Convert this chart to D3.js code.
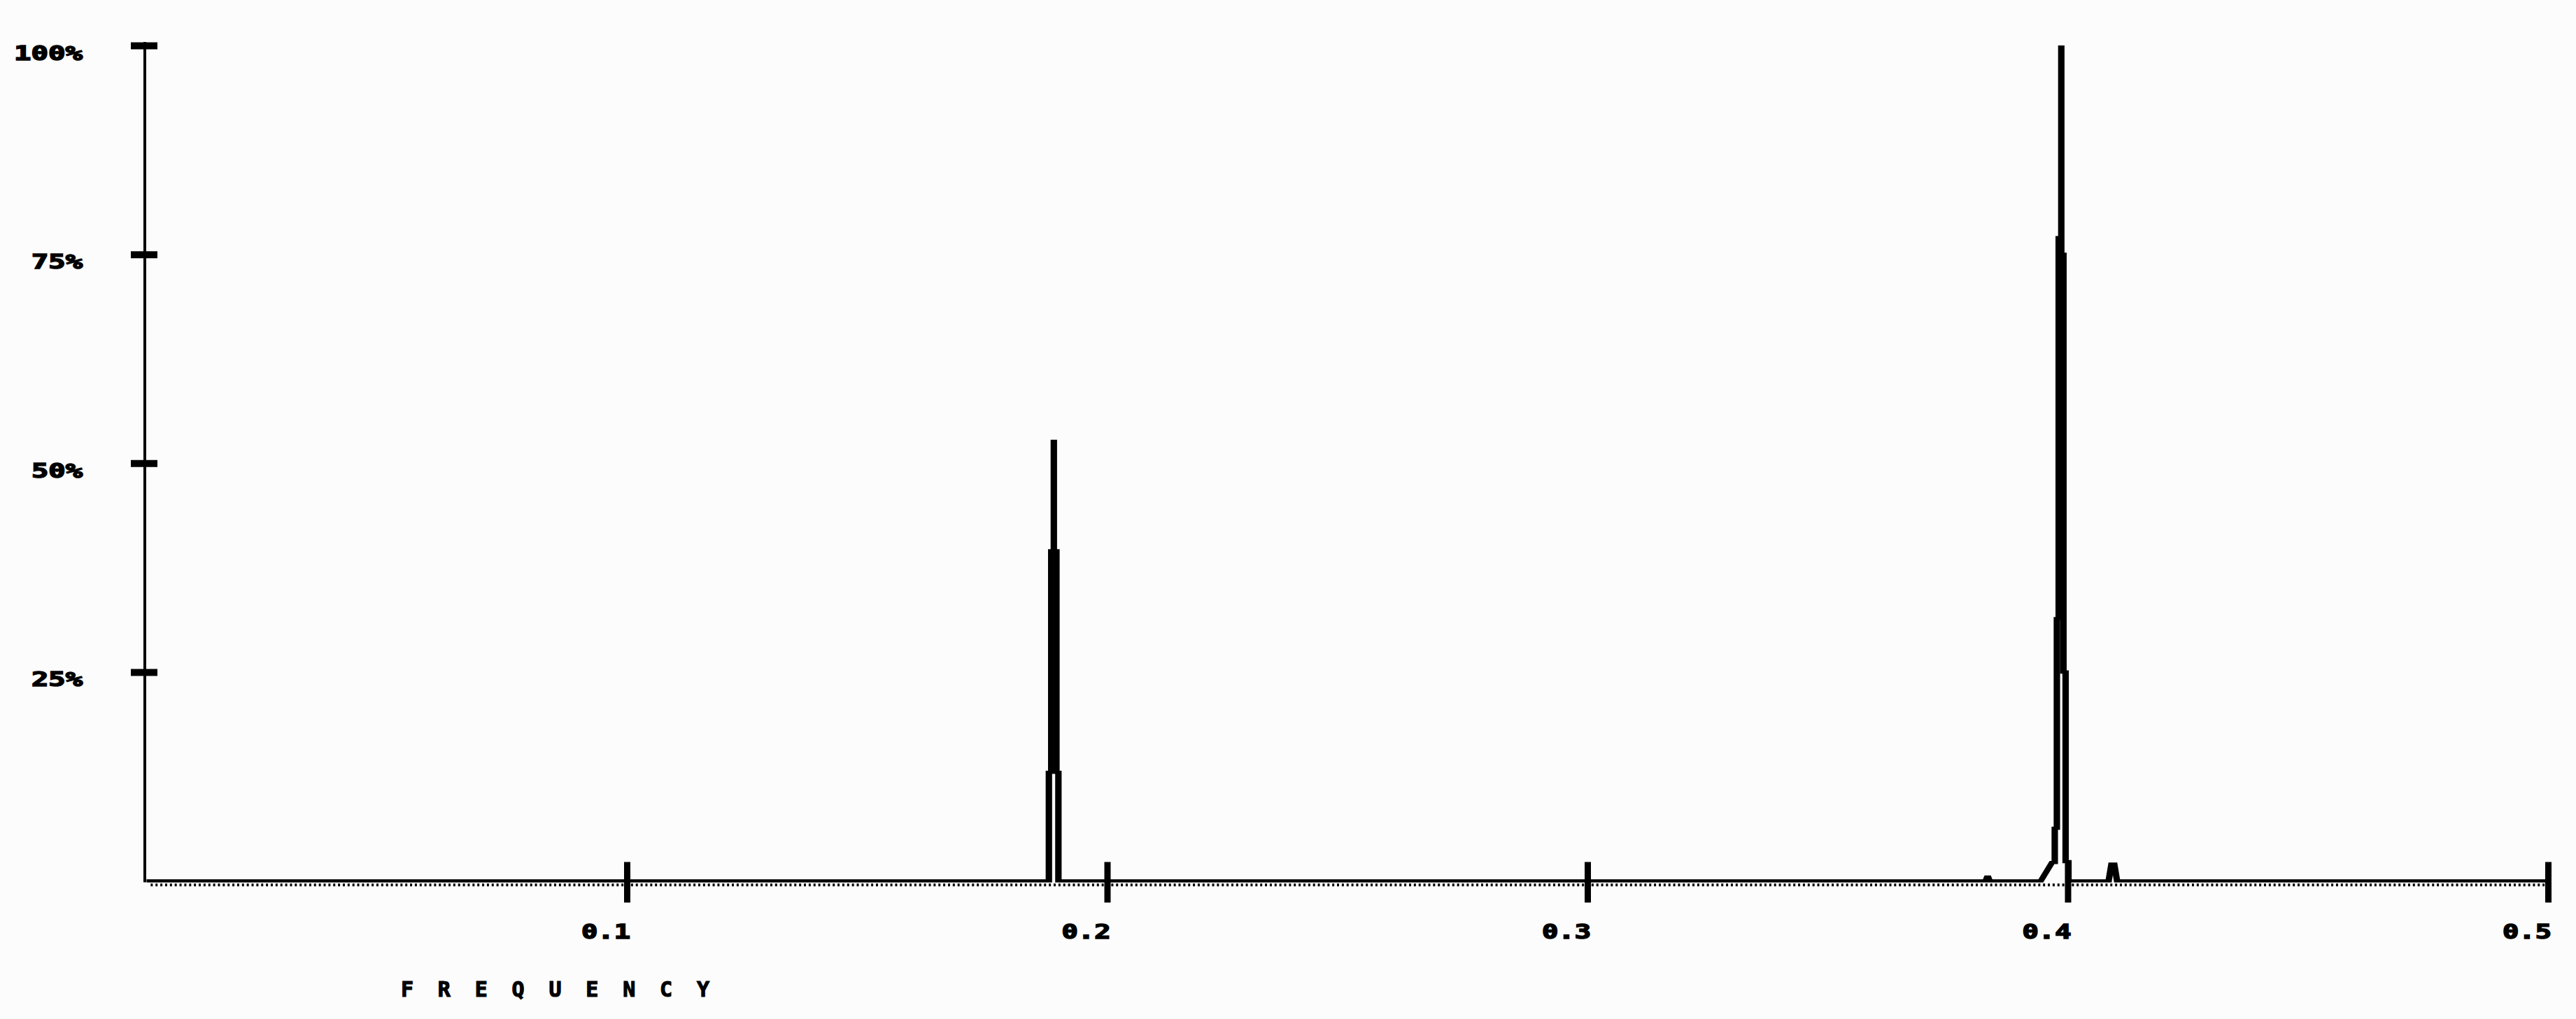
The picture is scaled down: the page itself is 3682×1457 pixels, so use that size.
<!DOCTYPE html>
<html>
<head>
<meta charset="utf-8">
<script src="https://cdn.jsdelivr.net/npm/d3@7"></script>
<style>
  html, body { margin: 0; padding: 0; background: #fcfcfc; }
  svg { display: block; }
</style>
</head>
<body>
<svg id="chart" width="3682" height="1457"></svg>
<script>
// spectrum trace: frequency (cycles/sample) and power (% of peak)
const frequency = [
  0,
  // peak near 0.19
  0.18787, 0.18787, 0.18836, 0.18836, 0.18890, 0.18890, 0.18890, 0.18944, 0.18944, 0.18985, 0.18985,
  // small blip
  0.38289, 0.38333, 0.38376,
  // main peak near 0.4
  0.39440, 0.39672, 0.39730, 0.39730, 0.39774, 0.39774, 0.39812, 0.39812, 0.39866, 0.39866,
  0.39866, 0.39911, 0.39911, 0.39956, 0.39956, 0.40015, 0.40015,
  // side lobe
  0.40852, 0.40910, 0.40969, 0.41027,
  0.5
];
const power = [
  0,
  0, 13, 13, 39.5, 39.5, 52.8, 39.5, 39.5, 13, 13, 0,
  0, 0.6, 0,
  0, 2.2, 2.2, 6.3, 6.3, 31.4, 31.4, 77, 77, 100,
  75, 75, 25, 25, 2.3, 2.3, 0,
  0, 2.0, 2.0, 0,
  0
];
const xTicks = [0.1, 0.2, 0.3, 0.4, 0.5];
const yTicks = [25, 50, 75, 100];
const axisLabel = "FREQUENCY";

const svg = d3.select("#chart");
const x0 = 209.5, x1 = 3642;
const yBase = 1259.5, yTop = 65;
const fontFam = "'DejaVu Sans Mono', 'Liberation Mono', monospace";

const x = d3.scaleLinear().domain([0, 0.5]).range([x0, x1]);
const y = d3.scaleLinear().domain([0, 100]).range([yBase, yTop]);
// the plotter pen is twice as wide as it is tall, so draw the trace in a stretched group
const xHalf = d3.scaleLinear().domain([0, 0.5]).range([0, (x1 - x0) / 2]);

const points = frequency.map((f, i) => ({ f, p: power[i] }));

// minor ticks (dotted strip under baseline)
const minor = svg.append("g")
    .attr("transform", `translate(0,${yBase + 3.8})`)
    .call(d3.axisBottom(x).tickValues(d3.range(1, 500).map(i => i / 1000)).tickSize(4).tickFormat(""));
minor.select(".domain").remove();
minor.selectAll(".tick line").attr("stroke", "#000").attr("stroke-width", 3);

// trace
svg.append("g")
    .attr("transform", `translate(${x0},0) scale(2,1)`)
    .append("path")
    .datum(points)
    .attr("fill", "none")
    .attr("stroke", "#000")
    .attr("stroke-width", 4.6)
    .attr("stroke-linejoin", "miter")
    .attr("d", d3.line().x(d => xHalf(d.f)).y(d => y(d.p)));

// x axis major ticks + labels
const gx = svg.append("g")
    .attr("transform", `translate(0,${yBase})`)
    .call(d3.axisBottom(x).tickValues(xTicks).tickSize(31).tickFormat(d3.format(".1f")));
gx.select(".domain").remove();
gx.selectAll(".tick line")
    .attr("y1", -27)
    .attr("stroke", "#000")
    .attr("stroke-width", 9);
gx.selectAll(".tick text")
    .attr("fill", "#000")
    .attr("stroke", "#000")
    .attr("stroke-width", 1.6)
    .attr("font-family", fontFam)
    .attr("font-weight", "bold")
    .attr("font-size", 28)
    .attr("text-anchor", "end")
    .attr("x", 4.5)
    .attr("y", 82.5)
    .attr("dy", null)
    .attr("textLength", 70)
    .attr("lengthAdjust", "spacingAndGlyphs");

// y axis
svg.append("line")
    .attr("x1", 207).attr("x2", 207)
    .attr("y1", 60).attr("y2", yBase + 2)
    .attr("stroke", "#000")
    .attr("stroke-width", 4);

const gy = svg.append("g")
    .attr("transform", "translate(207,0)")
    .call(d3.axisLeft(y).tickValues(yTicks).tickSize(20).tickFormat(d => d + "%"));
gy.select(".domain").remove();
gy.selectAll(".tick line")
    .attr("x1", 18)
    .attr("stroke", "#000")
    .attr("stroke-width", 10);
gy.selectAll(".tick text")
    .attr("fill", "#000")
    .attr("stroke", "#000")
    .attr("stroke-width", 1.6)
    .attr("font-family", fontFam)
    .attr("font-weight", "bold")
    .attr("font-size", 28)
    .attr("text-anchor", "end")
    .attr("x", -89)
    .attr("y", 20)
    .attr("dy", null)
    .attr("textLength", d => d === 100 ? 98 : 73)
    .attr("lengthAdjust", "spacingAndGlyphs");

// axis title
svg.append("text")
    .attr("x", 573)
    .attr("y", 1425)
    .attr("font-family", fontFam)
    .attr("font-weight", "bold")
    .attr("font-size", 30)
    .attr("stroke", "#000")
    .attr("stroke-width", 1.2)
    .attr("textLength", 441)
    .attr("lengthAdjust", "spacing")
    .attr("fill", "#000")
    .text(axisLabel);
</script>
</body>
</html>
